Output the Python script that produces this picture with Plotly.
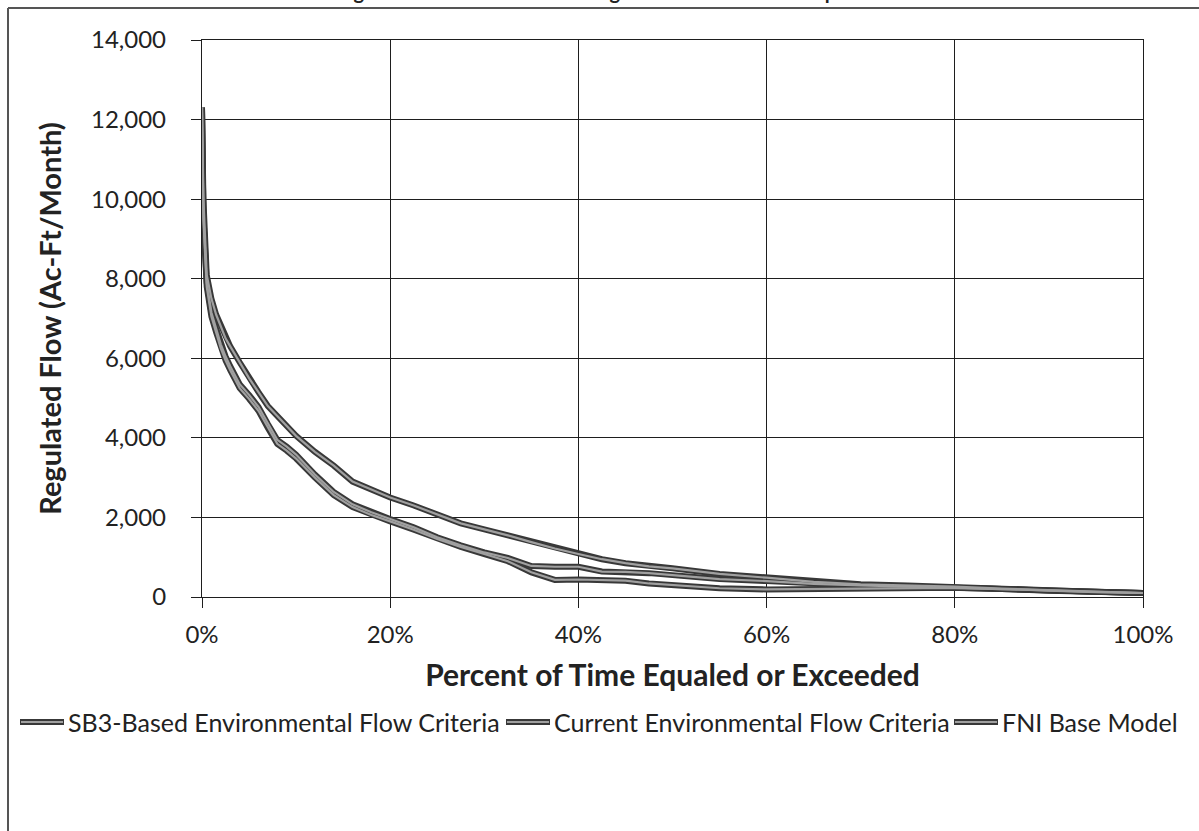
import plotly.graph_objects as go

# ---- data ----
pct = [0, 0.15, 0.5, 1, 1.5, 2, 2.5, 3, 4, 5, 6, 7, 8, 9, 10, 12, 14, 16, 18, 20,
       22.5, 25, 27.5, 30, 32.5, 35, 37.5, 40, 42.5, 45, 47.5, 50, 55, 60, 65, 70,
       75, 80, 85, 90, 95, 100]

sb3_flow = [12300, 10000, 8100, 7500, 7100, 6800, 6500, 6300, 5900, 5500, 5150, 4800,
            4550, 4300, 4050, 3650, 3300, 2900, 2700, 2500, 2300, 2070, 1850, 1700,
            1550, 1380, 1220, 1080, 950, 850, 770, 720, 580, 485, 380, 320, 290, 260,
            210, 170, 130, 100]

current_flow = [12300, 9600, 7900, 7150, 6750, 6350, 6050, 5800, 5350, 5080, 4780, 4350,
                3950, 3780, 3580, 3080, 2640, 2330, 2130, 1960, 1750, 1500, 1300, 1120,
                980, 780, 760, 760, 640, 630, 600, 550, 450, 400, 330, 290, 260, 240,
                200, 160, 120, 100]

fni_flow = [12300, 9500, 7800, 7050, 6650, 6250, 5950, 5700, 5250, 4980, 4680, 4250,
            3850, 3680, 3480, 3000, 2560, 2260, 2060, 1900, 1690, 1460, 1260, 1080,
            900, 620, 430, 440, 430, 410, 340, 300, 220, 190, 200, 210, 220, 230,
            200, 160, 130, 100]

series_names = ["SB3-Based Environmental Flow Criteria",
                "Current Environmental Flow Criteria",
                "FNI Base Model"]
series_values = [sb3_flow, current_flow, fni_flow]

x_ticks = [0, 20, 40, 60, 80, 100]
x_tick_labels = ["0%", "20%", "40%", "60%", "80%", "100%"]
y_ticks = [0, 2000, 4000, 6000, 8000, 10000, 12000, 14000]
y_tick_labels = ["0", "2,000", "4,000", "6,000", "8,000", "10,000", "12,000", "14,000"]

FONT = "Lato, Liberation Sans, sans-serif"
OUTER = "#383838"
INNER = "#a0a0a0"

fig = go.Figure()
for name, vals in zip(series_names, series_values):
    fig.add_trace(go.Scatter(x=pct, y=vals, mode="lines", name=name,
                             line=dict(color=OUTER, width=6), showlegend=False))
for name, vals in zip(series_names, series_values):
    fig.add_trace(go.Scatter(x=pct, y=vals, mode="lines", name=name,
                             line=dict(color=INNER, width=2.2), showlegend=False,
                             hoverinfo="skip"))

W, H = 1199, 831
L, R, T, B = 202, 1143, 40, 597
pw, ph = R - L, B - T


def px_x(p):
    return (p - L) / pw


def px_y(p):
    return (B - p) / ph


axis_common = dict(showgrid=True, gridcolor="#1e1e1e", gridwidth=1.3,
                   showline=True, linecolor="#1e1e1e", linewidth=1.3, mirror=True,
                   ticks="outside", ticklen=10, tickcolor="#1e1e1e", tickwidth=1.3,
                   zeroline=False,
                   tickfont=dict(family=FONT, size=24, color="#222"))

fig.update_layout(
    width=W, height=H,
    margin=dict(l=L, r=W - R, t=T, b=H - B),
    paper_bgcolor="white", plot_bgcolor="white",
    showlegend=False,
    xaxis=dict(range=[0, 100], tickmode="array", tickvals=x_ticks,
               ticktext=x_tick_labels, ticklabelstandoff=6,
               title=dict(text="<b>Percent of Time Equaled or Exceeded</b>",
                          font=dict(family=FONT, size=30, color="#222"), standoff=18),
               **axis_common),
    yaxis=dict(range=[0, 14000], tickmode="array", tickvals=y_ticks,
               ticktext=y_tick_labels, ticklabelstandoff=20,
               title=dict(text="<b>Regulated Flow (Ac-Ft/Month)</b>",
                          font=dict(family=FONT, size=29, color="#222"), standoff=20),
               **axis_common),
)

# legend drawn below the plot (symbol = outlined line, as in the original)
legend_y = 722
legend_entries = [(20, 64, series_names[0]), (506, 550, series_names[1]),
                  (954, 998, series_names[2])]
for x0, x1, label in legend_entries:
    fig.add_shape(type="line", xref="paper", yref="paper",
                  x0=px_x(x0), x1=px_x(x1), y0=px_y(legend_y), y1=px_y(legend_y),
                  line=dict(color=OUTER, width=6))
    fig.add_shape(type="line", xref="paper", yref="paper",
                  x0=px_x(x0 + 1), x1=px_x(x1 - 1), y0=px_y(legend_y), y1=px_y(legend_y),
                  line=dict(color=INNER, width=2))
    fig.add_annotation(text=label, xref="paper", yref="paper",
                       x=px_x(x1 + 2), y=px_y(legend_y), xanchor="left", yanchor="middle",
                       showarrow=False, font=dict(family=FONT, size=25, color="#222"))

# page frame lines (scan border) and the cut-off figure caption
fig.add_shape(type="line", xref="paper", yref="paper",
              x0=px_x(8), x1=px_x(1199), y0=px_y(8), y1=px_y(8),
              line=dict(color="#555", width=2))
fig.add_shape(type="line", xref="paper", yref="paper",
              x0=px_x(8), x1=px_x(8), y0=px_y(8), y1=px_y(831),
              line=dict(color="#555", width=2))
fig.add_annotation(text="<b>Figure 2-1: Duration Plot of Regulated Flow at Lake Ralph Hall</b>",
                   xref="paper", yref="paper", x=px_x(612), y=px_y(5),
                   xanchor="center", yanchor="bottom", showarrow=False,
                   font=dict(family=FONT, size=20, color="#222"))

fig.write_html("out.html")
